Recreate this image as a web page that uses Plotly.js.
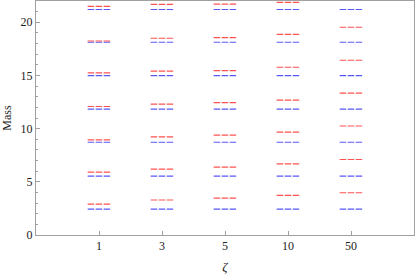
<!DOCTYPE html>
<html>
<head>
<meta charset="utf-8">
<script src="https://cdn.plot.ly/plotly-3.0.1.min.js"></script>
<style>html,body{margin:0;padding:0;background:#fff;}#chart{width:415px;height:274px;}</style>
</head>
<body>
<div id="chart"></div>
<script>
// Category labels (zeta values)
const zetaLabels = ['1', '3', '5', '10', '50'];
// Blue levels (same at every zeta)
const blueMass_1  = [2.44, 5.54, 8.72, 11.83, 14.99, 18.12, 21.2];
const blueMass_3  = [2.44, 5.54, 8.72, 11.83, 14.99, 18.12, 21.2];
const blueMass_5  = [2.44, 5.54, 8.72, 11.83, 14.99, 18.12, 21.2];
const blueMass_10 = [2.44, 5.54, 8.72, 11.83, 14.99, 18.12, 21.2];
const blueMass_50 = [2.44, 5.54, 8.72, 11.83, 14.99, 18.12, 21.2];
// Red levels per zeta
const redMass_1  = [2.91, 5.91, 8.95, 12.08, 15.24, 18.24, 21.5];
const redMass_3  = [3.29, 6.20, 9.23, 12.30, 15.40, 18.50, 21.69];
const redMass_5  = [3.47, 6.38, 9.39, 12.45, 15.46, 18.56, 21.70];
const redMass_10 = [3.72, 6.69, 9.67, 12.68, 15.77, 18.87, 21.88];
const redMass_50 = [3.97, 7.10, 10.25, 13.33, 16.43, 19.53];

const blueSets = [blueMass_1, blueMass_3, blueMass_5, blueMass_10, blueMass_50];
const redSets = [redMass_1, redMass_3, redMass_5, redMass_10, redMass_50];

const halfW = 0.18;
function buildSegments(sets) {
  const xs = [], ys = [];
  sets.forEach((vals, i) => {
    const c = i + 1;
    vals.forEach(v => {
      xs.push(c - halfW, c + halfW, null);
      ys.push(v, v, null);
    });
  });
  return {xs, ys};
}
const b = buildSegments(blueSets);
const r = buildSegments(redSets);

const dashStyle = '6.5px,1.5px';
const traces = [
  {x: b.xs, y: b.ys, mode: 'lines', type: 'scatter', hoverinfo: 'skip',
   line: {color: 'rgb(88,88,250)', width: 1.2, dash: dashStyle}, showlegend: false},
  {x: r.xs, y: r.ys, mode: 'lines', type: 'scatter', hoverinfo: 'skip',
   line: {color: 'rgb(255,82,82)', width: 1.2, dash: dashStyle}, showlegend: false}
];

const serif = 'Liberation Serif';
const axisColor = '#a0a0a0';
const layout = {
  width: 415, height: 274,
  margin: {l: 36, r: 1, t: 1, b: 39, pad: 0},
  paper_bgcolor: '#fff', plot_bgcolor: '#fff',
  font: {family: serif, size: 12, color: '#222'},
  xaxis: {
    range: [0, 6], tickmode: 'array', tickvals: [1, 2, 3, 4, 5], ticktext: zetaLabels,
    showgrid: false, zeroline: false, showline: true, mirror: true, linecolor: axisColor, linewidth: 1,
    ticks: 'inside', ticklen: 4, tickcolor: axisColor,
    title: {text: 'ζ', font: {size: 13, family: serif, style: 'italic'}, standoff: 10},
    tickfont: {size: 12, family: serif}
  },
  yaxis: {
    range: [0, 22], dtick: 5, tick0: 0,
    showgrid: false, zeroline: false, showline: true, mirror: true, linecolor: axisColor, linewidth: 1,
    ticks: 'inside', ticklen: 4, tickcolor: axisColor,
    minor: {dtick: 1, ticks: 'inside', ticklen: 2, tickcolor: axisColor, showgrid: false},
    title: {text: 'Mass', font: {size: 12, family: serif}, standoff: 6},
    tickfont: {size: 12, family: serif}
  }
};

Plotly.newPlot('chart', traces, layout, {displayModeBar: false, staticPlot: true});
</script>
</body>
</html>
